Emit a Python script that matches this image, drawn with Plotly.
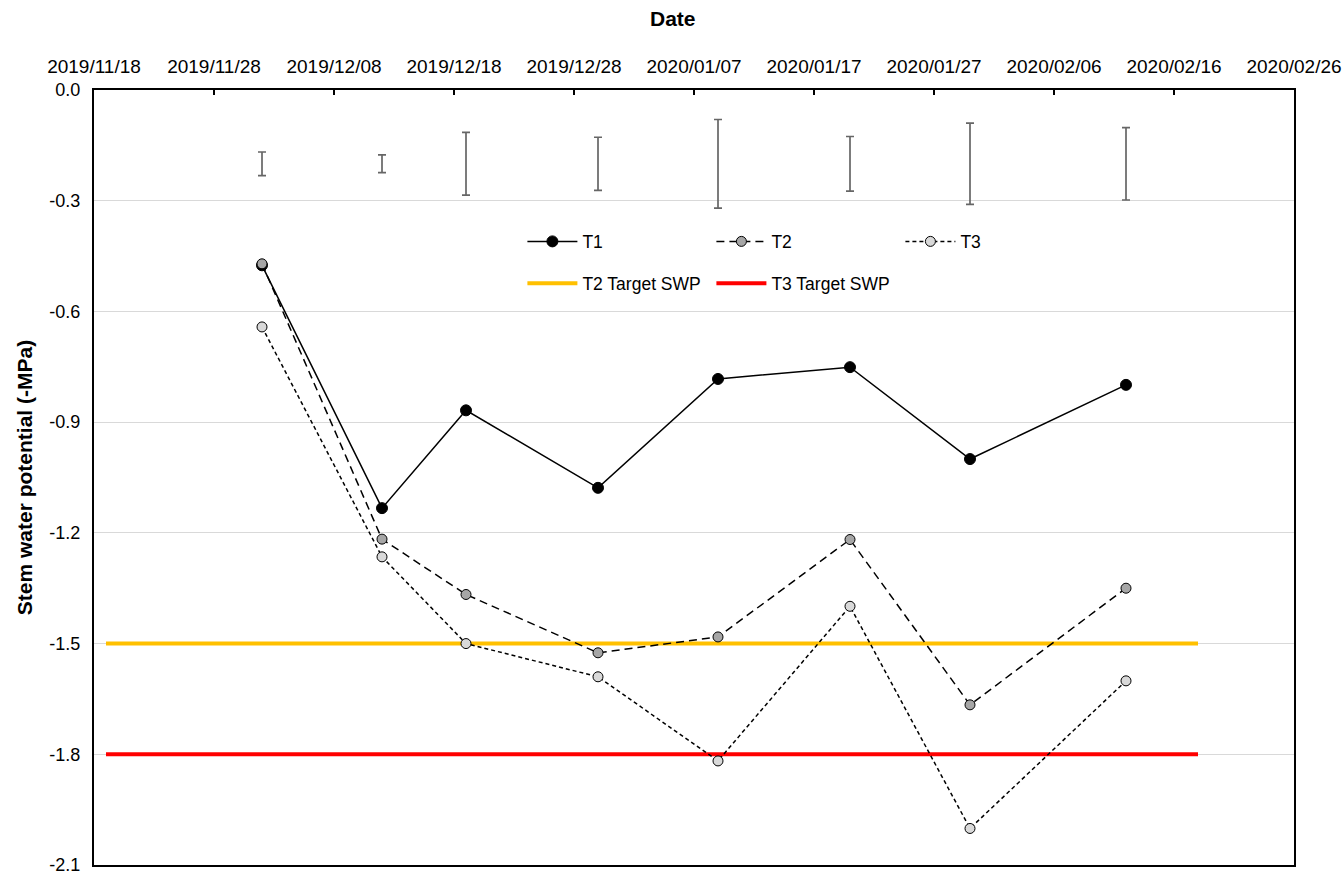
import plotly.graph_objects as go

# Sampling dates and stem water potential (MPa) per treatment
dates = ["2019-12-02", "2019-12-12", "2019-12-19", "2019-12-30",
         "2020-01-09", "2020-01-20", "2020-01-30", "2020-02-12"]
t1 = [-0.475, -1.133, -0.868, -1.078, -0.783, -0.751, -1.000, -0.799]
t2 = [-0.471, -1.217, -1.367, -1.525, -1.482, -1.218, -1.666, -1.350]
t3 = [-0.642, -1.265, -1.500, -1.590, -1.818, -1.399, -2.001, -1.601]

# Variability bars drawn in the upper band of the chart
bar_mid = [-0.2, -0.2, -0.2, -0.2, -0.2, -0.2, -0.2, -0.2]
bar_half = [0.032, 0.024, 0.085, 0.072, 0.120, 0.074, 0.110, 0.098]

# Target stem water potential thresholds
target_dates = ["2019-11-19", "2020-02-18"]
t2_target = -1.5
t3_target = -1.8

# Axis ticks
y_ticks = [0.0, -0.3, -0.6, -0.9, -1.2, -1.5, -1.8, -2.1]
y_tick_text = ["0.0", "-0.3", "-0.6", "-0.9", "-1.2", "-1.5", "-1.8", "-2.1"]

FONT = "Arial, Liberation Sans, sans-serif"

fig = go.Figure()

fig.add_trace(go.Scatter(
    x=target_dates, y=[t2_target, t2_target], mode="lines",
    name="T2 Target SWP", line=dict(color="#FFC000", width=4),
    legend="legend2", hoverinfo="skip"))
fig.add_trace(go.Scatter(
    x=target_dates, y=[t3_target, t3_target], mode="lines",
    name="T3 Target SWP", line=dict(color="#FF0000", width=4),
    legend="legend2", hoverinfo="skip"))

fig.add_trace(go.Scatter(
    x=dates, y=bar_mid, mode="markers", showlegend=False,
    marker=dict(size=1, opacity=0),
    error_y=dict(type="data", array=bar_half, visible=True,
                 color="#666666", thickness=1.7, width=4)))

fig.add_trace(go.Scatter(
    x=dates, y=t1, mode="lines+markers", name="T1",
    line=dict(color="black", width=1.5),
    marker=dict(symbol="circle", size=11, color="black",
                line=dict(color="black", width=1))))
fig.add_trace(go.Scatter(
    x=dates, y=t2, mode="lines+markers", name="T2",
    line=dict(color="black", width=1.5, dash="8px,5px"),
    marker=dict(symbol="circle", size=10, color="#A6A6A6",
                line=dict(color="black", width=1))))
fig.add_trace(go.Scatter(
    x=dates, y=t3, mode="lines+markers", name="T3",
    line=dict(color="black", width=1.5, dash="4px,3px"),
    marker=dict(symbol="circle", size=10, color="#D9D9D9",
                line=dict(color="black", width=1))))

legend_style = dict(orientation="h", xanchor="left", yanchor="middle",
                    entrywidth=124, entrywidthmode="pixels", itemwidth=50,
                    font=dict(size=17.5), bgcolor="rgba(0,0,0,0)")

fig.update_layout(
    width=1344, height=874,
    margin=dict(l=94, r=50, t=90, b=9),
    paper_bgcolor="white", plot_bgcolor="white",
    font=dict(family=FONT, color="black", size=18),
    legend=dict(x=0.357, y=0.8045, **legend_style),
    legend2=dict(x=0.357, y=0.7505, **legend_style),
    xaxis=dict(
        type="date", side="top",
        range=["2019-11-18", "2020-02-26"],
        tick0="2019-11-18", dtick=10 * 86400000,
        tickformat="%Y/%m/%d",
        ticks="inside", ticklen=5, tickwidth=1.5, tickcolor="black",
        showline=True, linecolor="black", linewidth=2, mirror=True,
        showgrid=False, zeroline=False, ticklabelstandoff=7,
        ticklabeloverflow="allow", automargin=False,
        tickfont=dict(size=19)),
    yaxis=dict(
        range=[-2.1, 0], tickvals=y_ticks, ticktext=y_tick_text,
        showline=True, linecolor="black", linewidth=2, mirror=True,
        showgrid=True, gridcolor="#D9D9D9", gridwidth=1.2,
        zeroline=False, ticks="", ticklabelstandoff=8,
        ticklabeloverflow="allow", automargin="left",
        tickfont=dict(size=18),
        title=dict(text="<b>Stem water potential (-MPa)</b>",
                   font=dict(size=21), standoff=11)),
    annotations=[dict(
        text="<b>Date</b>", xref="paper", yref="paper",
        x=0.4825, y=1.0928, xanchor="center", yanchor="middle",
        showarrow=False, font=dict(size=21))],
)

fig.write_html("out.html")
